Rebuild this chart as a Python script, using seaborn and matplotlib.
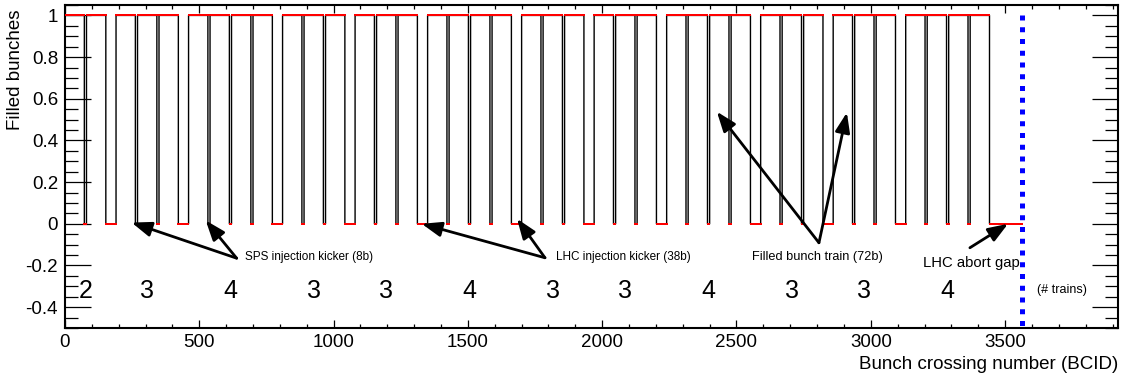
import numpy as np
import pandas as pd
import matplotlib
matplotlib.use("Agg")
import matplotlib.pyplot as plt
import seaborn as sns
from matplotlib.ticker import MultipleLocator, FixedLocator, FixedFormatter

# 25 ns LHC filling scheme with 2808 bunches
trains_per_group = [2, 3, 4, 3, 3, 4, 3, 3, 4, 3, 3, 4]   # trains per LHC injection
train_length = 72        # filled bunches per train
sps_gap = 8              # empty slots between trains (SPS injection kicker)
lhc_gap = 38             # empty slots between injections (LHC injection kicker)
orbit_bcids = 3564       # bunch slots per orbit

x_ticks = [0, 500, 1000, 1500, 2000, 2500, 3000, 3500]
y_ticks = [-0.4, -0.2, 0, 0.2, 0.4, 0.6, 0.8, 1]
y_tick_labels = ["-0.4", "-0.2", "0", "0.2", "0.4", "0.6", "0.8", "1"]

# build the per-BCID filled pattern from the train structure
filled = []
group_centers = []
for g, n in enumerate(trains_per_group):
    start = len(filled)
    for t in range(n):
        filled += [1] * train_length
        if t < n - 1:
            filled += [0] * sps_gap
    group_centers.append(0.5 * (start + len(filled)))
    if g < len(trains_per_group) - 1:
        filled += [0] * lhc_gap
filled += [0] * (orbit_bcids - len(filled))

df = pd.DataFrame({"bcid": np.arange(orbit_bcids) + 0.5, "filled": filled})

sns.set_theme(style="ticks")
plt.rcParams["font.family"] = ["Liberation Sans", "DejaVu Sans"]
plt.rcParams["text.color"] = "black"
plt.rcParams["axes.labelcolor"] = "black"

fig = plt.figure(figsize=(11.25, 3.82), dpi=100)
ax = fig.add_axes([65 / 1125, 1 - 328 / 382, 1053 / 1125, 323 / 382])

sns.lineplot(data=df, x="bcid", y="filled", drawstyle="steps-mid",
             color="black", linewidth=1.0, ax=ax, estimator=None)
sns.scatterplot(data=df, x="bcid", y="filled", marker="s", s=4,
                color="red", linewidth=0, ax=ax, zorder=3)

# end of the orbit
ax.plot([orbit_bcids, orbit_bcids], [1, -0.5], color="#0000ff",
        linewidth=3.6, dashes=(1.0, 1.35), solid_capstyle="butt",
        dash_capstyle="butt", zorder=4)

ax.set_xlim(0, orbit_bcids * 1.1)
ax.set_ylim(-0.5, 1.05)

ax.xaxis.set_major_locator(FixedLocator(x_ticks))
ax.xaxis.set_minor_locator(MultipleLocator(100))
ax.yaxis.set_major_locator(FixedLocator(y_ticks))
ax.yaxis.set_major_formatter(FixedFormatter(y_tick_labels))
ax.yaxis.set_minor_locator(MultipleLocator(0.05))

ax.tick_params(which="both", direction="in", top=True, right=True,
               width=0.9, colors="black", labelsize=13.5)
ax.tick_params(axis="x", which="major", length=5.8, pad=4)
ax.tick_params(axis="x", which="minor", length=2.9)
ax.tick_params(axis="y", which="major", length=19, pad=5)
ax.tick_params(axis="y", which="minor", length=9.5)
for s in ax.spines.values():
    s.set_linewidth(1.5)
    s.set_color("black")

ax.set_xlabel("Bunch crossing number (BCID)", fontsize=13.5, loc="right")
ax.xaxis.set_label_coords(1.0, -0.088)
ax.set_ylabel("Filled bunches", fontsize=13.5, loc="top")
ax.yaxis.set_label_coords(-0.039, 0.985)

# number of trains per injection
for c, n in zip(group_centers, trains_per_group):
    ax.text(c, -0.322, str(n), fontsize=18, ha="center", va="center")
ax.text(3619, -0.32, "(# trains)", fontsize=9, ha="left", va="center")

arrow = dict(arrowstyle="-|>,head_length=0.75,head_width=0.28",
             color="black", lw=2.0, mutation_scale=16,
             shrinkA=0, shrinkB=0)
for head in [(248, 0.006), (524, 0.016)]:
    ax.annotate("", xy=head, xytext=(639, -0.165), arrowprops=arrow)
ax.text(670, -0.161, "SPS injection kicker (8b)", fontsize=8.5,
        ha="left", va="center")

for head in [(1328, 0.0), (1683, 0.024)]:
    ax.annotate("", xy=head, xytext=(1787, -0.163), arrowprops=arrow)
ax.text(1828, -0.161, "LHC injection kicker (38b)", fontsize=8.5,
        ha="left", va="center")

for head in [(2427, 0.538), (2911, 0.534)]:
    ax.annotate("", xy=head, xytext=(2807, -0.091), arrowprops=arrow)
ax.text(2558, -0.159, "Filled bunch train (72b)", fontsize=9.2,
        ha="left", va="center")

ax.annotate("", xy=(3511, 0.0), xytext=(3369, -0.115), arrowprops=arrow)
ax.text(3194, -0.188, "LHC abort gap", fontsize=10.7, ha="left", va="center")

fig.savefig("out.png", dpi=100)
